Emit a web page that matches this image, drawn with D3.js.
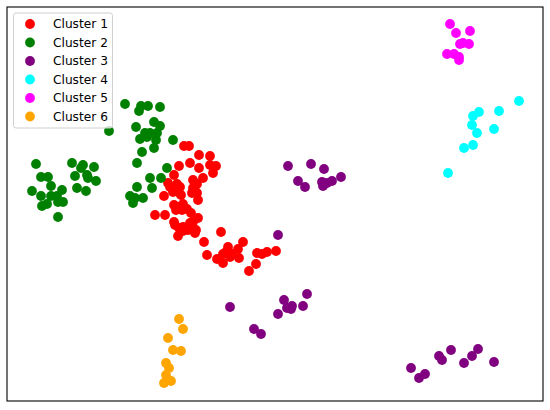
<!DOCTYPE html>
<html>
<head>
<meta charset="utf-8">
<script src="https://cdn.jsdelivr.net/npm/d3@7"></script>
<style>
  html, body { margin: 0; padding: 0; background: #fff; }
  svg { display: block; }
</style>
</head>
<body>
<div id="chart"></div>
<script>
// ---- Data (arbitrary embedding units) ----
const clusterNames = ["Cluster 1", "Cluster 2", "Cluster 3", "Cluster 4", "Cluster 5", "Cluster 6"];
const clusterColors = ["red", "green", "purple", "cyan", "magenta", "orange"];

const cluster1 = [
  [184,146],[189,146],[199,155],[210,156],[179,166],[190,163],[199,168],[210,165],[216,166],
  [213,173],[203,178],[193,180],[174,175],[168,183],[170,187],[177,184],[180,187],[173,192],
  [178,192],[181,195],[193,188],[195,186],[197,184],[192,193],[197,193],[164,196],[198,200],
  [174,205],[178,207],[183,204],[176,210],[182,210],[187,209],[191,213],[155,215],[165,215],
  [198,218],[174,222],[175,225],[179,228],[183,227],[190,223],[193,222],[192,228],[196,230],
  [188,230],[183,231],[178,236],[195,233],[221,232],[204,242],[243,242],[228,247],[226,252],
  [223,254],[232,254],[238,249],[230,257],[207,255],[217,259],[223,263],[239,258],[257,253],
  [262,254],[267,252],[276,251],[256,264],[249,271]
];
const cluster2 = [
  [125,104],[141,106],[148,106],[160,107],[139,111],[109,131],[136,127],[154,122],[160,126],
  [145,133],[150,133],[157,133],[140,139],[147,137],[156,140],[173,140],[142,152],[154,148],
  [137,163],[167,168],[150,178],[161,178],[137,187],[152,188],[130,196],[135,198],[143,198],
  [133,203],
  [36,164],[41,177],[48,177],[51,186],[32,191],[41,196],[51,196],[57,196],[62,190],[58,202],
  [63,202],[42,206],[47,204],[58,217],
  [72,163],[83,165],[81,168],[94,167],[75,176],[87,175],[88,178],[96,181],[77,188],[86,191]
];
const cluster3 = [
  [288,166],[311,164],[324,169],[298,181],[305,187],[322,182],[323,186],[327,183],[332,181],
  [341,177],[278,235],[230,307],[284,300],[307,294],[287,308],[292,306],[291,309],[303,306],
  [278,314],[254,329],[261,334],[411,368],[419,378],[425,374],[439,356],[442,360],[451,350],
  [464,363],[472,356],[478,349],[494,362]
];
const cluster4 = [
  [519,101],[479,112],[473,116],[499,111],[472,125],[477,133],[494,129],[473,145],[464,148],[448,173]
];
const cluster5 = [
  [450,24],[456,33],[470,31],[469,44],[460,44],[463,43],[447,54],[454,54],[459,57],[459,60]
];
const cluster6 = [
  [179,319],[183,329],[168,338],[173,350],[181,351],[166,363],[169,368],[166,375],[171,381],[164,383]
];
const clusters = [cluster1, cluster2, cluster3, cluster4, cluster5, cluster6];

// ---- Layout ----
const W = 550, H = 410;
const frame = {left: 7, top: 7, right: 543, bottom: 401};
const R = 4.9;

const x = d3.scaleLinear().domain([7, 543]).range([frame.left, frame.right]);
const y = d3.scaleLinear().domain([7, 401]).range([frame.top, frame.bottom]);

const svg = d3.select("#chart").append("svg")
  .attr("width", W).attr("height", H);

svg.append("rect").attr("width", W).attr("height", H).attr("fill", "#fff");

const plot = svg.append("g");

clusters.forEach((pts, i) => {
  plot.append("g").selectAll("circle")
    .data(pts)
    .join("circle")
    .attr("cx", d => x(d[0]))
    .attr("cy", d => y(d[1]))
    .attr("r", R)
    .attr("fill", clusterColors[i]);
});

// frame
svg.append("rect")
  .attr("x", frame.left).attr("y", frame.top)
  .attr("width", frame.right - frame.left).attr("height", frame.bottom - frame.top)
  .attr("fill", "none").attr("stroke", "#000").attr("stroke-width", 1.1);

// legend
const lg = svg.append("g").attr("transform", "translate(13.5,13)");
lg.append("rect")
  .attr("width", 99).attr("height", 115)
  .attr("rx", 2.5).attr("ry", 2.5)
  .attr("fill", "#fff").attr("fill-opacity", 0.8)
  .attr("stroke", "#d0d0d0").attr("stroke-width", 1);

const items = lg.selectAll("g.item")
  .data(clusterNames)
  .join("g")
  .attr("class", "item")
  .attr("transform", (d, i) => `translate(0,${11 + i * 18.5})`);

items.append("circle")
  .attr("cx", 16.5).attr("cy", 0).attr("r", R)
  .attr("fill", (d, i) => clusterColors[i]);

items.append("text")
  .attr("x", 39.5).attr("y", 0)
  .attr("dy", "0.35em")
  .attr("font-family", "DejaVu Sans, sans-serif")
  .attr("font-size", "12.2px")
  .attr("fill", "#000")
  .text(d => d);
</script>
</body>
</html>
